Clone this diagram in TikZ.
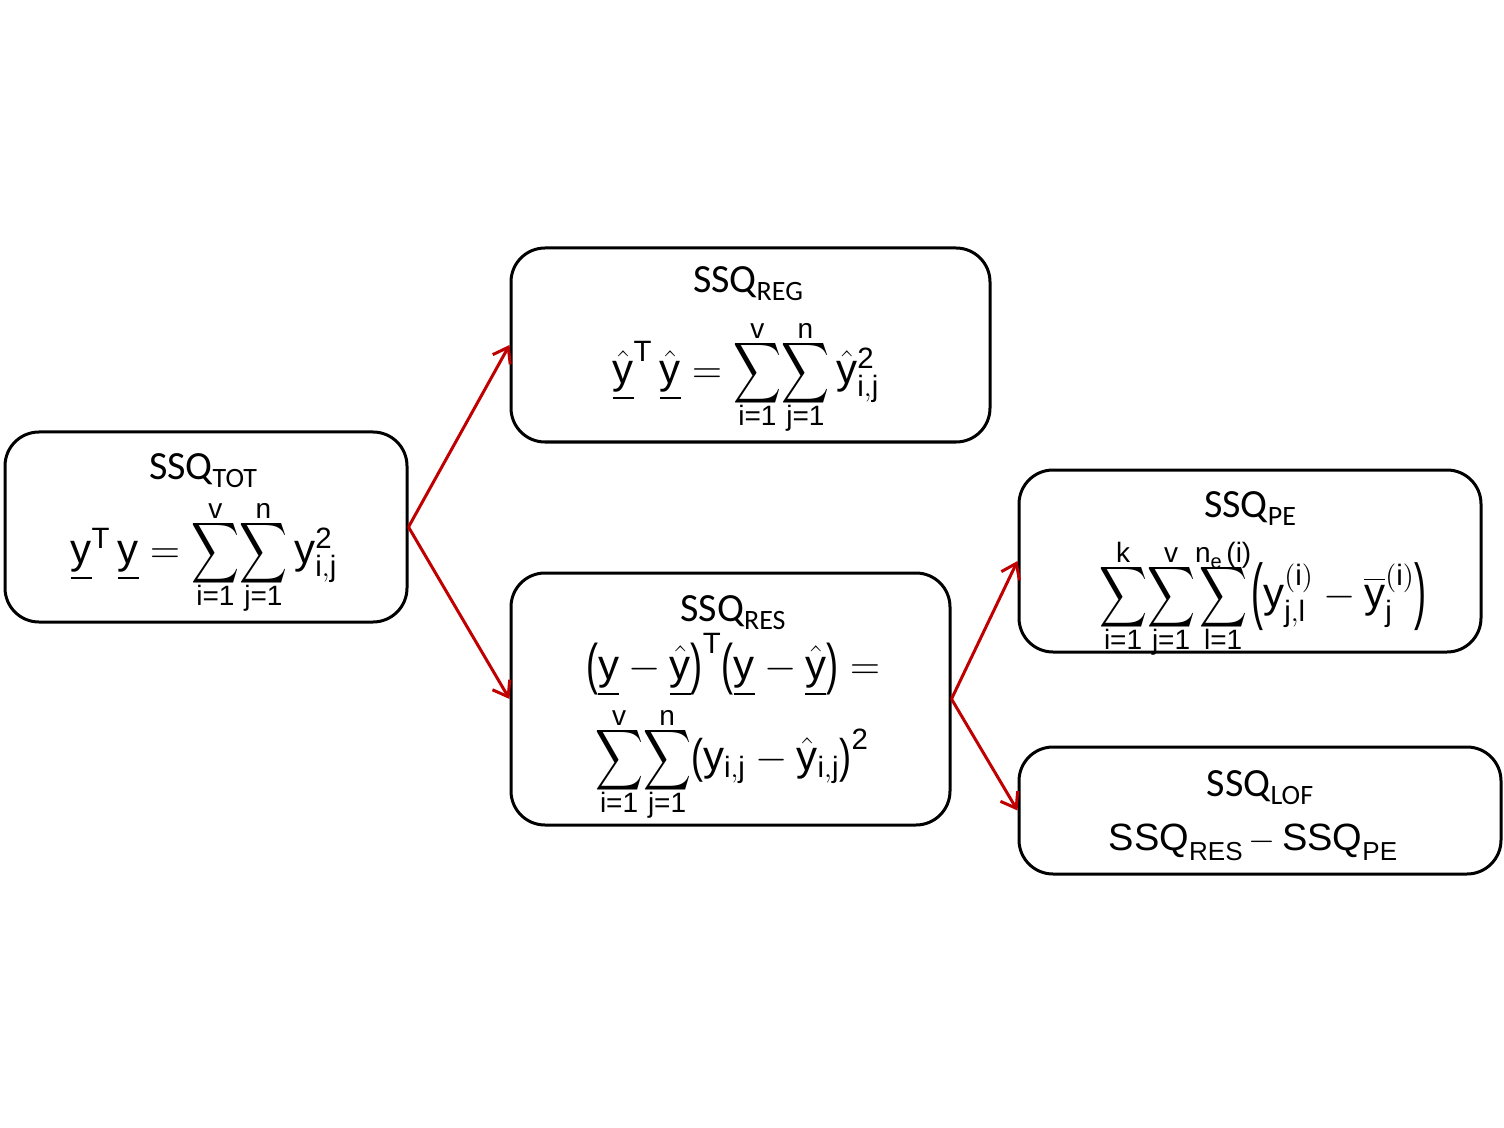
\documentclass[tikz,border=0pt]{standalone}
\usepackage{amsmath}
\usepackage{graphicx}
\usepackage{fontspec}
\setmainfont{Liberation Sans}
\newfontfamily\calib{Carlito}
\usetikzlibrary{arrows.meta}
\definecolor{arrred}{RGB}{192,0,0}
\newcommand{\limf}{\fontsize{14}{14}\selectfont}
\newcommand{\bigS}[2]{\mathord{\vcenter{\offinterlineskip\halign{\hfil##\hfil\cr
  \raisebox{0pt}[10.5pt][1.5pt]{\limf #2}\cr
  \noalign{\kern-1.2pt}
  \resizebox*{24pt}{34pt}{$\displaystyle\sum$}\cr
  \noalign{\kern-1.2pt}
  \raisebox{0pt}[10.5pt][1.5pt]{\limf #1}\cr}}}}
\newcommand{\LP}[1]{\mathopen{\vcenter{\hbox{\resizebox*{6pt}{#1}{(}}}}}
\newcommand{\RP}[1]{\mathclose{\vcenter{\hbox{\resizebox*{6pt}{#1}{)}}}}}
\newcommand{\ry}{\mathrm{y}}
\newcommand{\uy}{\underline{\mathrm{y}}}
\newcommand{\uhy}{\underline{\hat{\mathrm{y}}}}
\newcommand{\ttl}[1]{{\calib\fontsize{20}{24}\selectfont SSQ\raisebox{-4pt}{\fontsize{14}{14}\selectfont #1}}}
\newcommand{\fsz}{\fontsize{21}{25}\selectfont}
\tikzset{
  box/.style={draw=black, line width=1.5pt, rounded corners=17pt, inner sep=0pt},
  ttlnode/.style={anchor=base, inner sep=0pt},
  fnode/.style={inner sep=0pt, font=\fsz},
  arr/.style={draw=arrred, line width=1.5pt, -{Straight Barb[length=7pt,width=10pt]}}
}
\begin{document}
\begin{tikzpicture}[x=0.5pt,y=-0.5pt]
\useasboundingbox (0,0) rectangle (1504,1128);
% boxes
\node[box, minimum width=201pt, minimum height=95pt] (tot) at (206,527) {};
\node[box, minimum width=239.5pt, minimum height=97pt] (reg) at (750.5,345) {};
\node[box, minimum width=219.5pt, minimum height=126pt] (res) at (730.5,699) {};
\node[box, minimum width=231pt, minimum height=91pt] (pe) at (1250,561) {};
\node[box, minimum width=241pt, minimum height=63.5pt] (lof) at (1260,810.5) {};
% titles
\node[ttlnode] (totT) at (203,480) {\ttl{TOT}};
\node[ttlnode] (regT) at (748,293) {\ttl{REG}};
\node[ttlnode] (resT) at (733,621) {\ttl{RES}};
\node[ttlnode] (peT) at (1250,517) {\ttl{PE}};
\node[ttlnode] (lofT) at (1260,796) {\ttl{LOF}};
% formulas
\node[fnode] (totF) at (204,553) {$\uy^{\mathrm{T}}\,\uy = \bigS{i=1}{v}\bigS{j=1}{n}\,\ry_{\mathrm{i,j}}^{\mathrm{2}}$};
\node[fnode] (regF) at (746,373) {$\uhy^{\mathrm{T}}\,\uhy = \bigS{i=1}{v}\bigS{j=1}{n}\,\hat{\ry}_{\mathrm{i,j}}^{\mathrm{2}}$};
\node[fnode] (resF1) at (733,665) {$\LP{26pt}\uy-\uhy\RP{26pt}^{\mathrm{T}}\LP{26pt}\uy-\uhy\RP{26pt}=$};
\node[fnode] (resF2) at (732,760) {$\bigS{i=1}{v}\bigS{j=1}{n}\LP{22pt}\ry_{\mathrm{i,j}}-\hat{\ry}_{\mathrm{i,j}}\RP{22pt}^{\mathrm{2}}$};
\node[fnode] (peF) at (1263,597) {$\bigS{i=1}{k}\bigS{j=1}{v}\bigS{l=1}{n\raisebox{-3pt}{\fontsize{10}{10}\selectfont e}\,(i)}\LP{34pt}\ry_{\mathrm{j,l}}^{(\mathrm{i})}-\overline{\ry}_{\mathrm{j}}^{(\mathrm{i})}\RP{34pt}$};
\node[inner sep=0pt, anchor=base] (lofF) at (1253,850) {\fontsize{19}{24}\selectfont SSQ\raisebox{-5pt}{\fontsize{13}{13}\selectfont RES}\,$-$\,SSQ\raisebox{-5pt}{\fontsize{13}{13}\selectfont PE}};
% arrows
\draw[arr] (tot.east) -- (reg.west);
\draw[arr] (tot.east) -- (res.west);
\draw[arr] (res.east) -- (pe.west);
\draw[arr] (res.east) -- (lof.west);
\end{tikzpicture}
\end{document}
